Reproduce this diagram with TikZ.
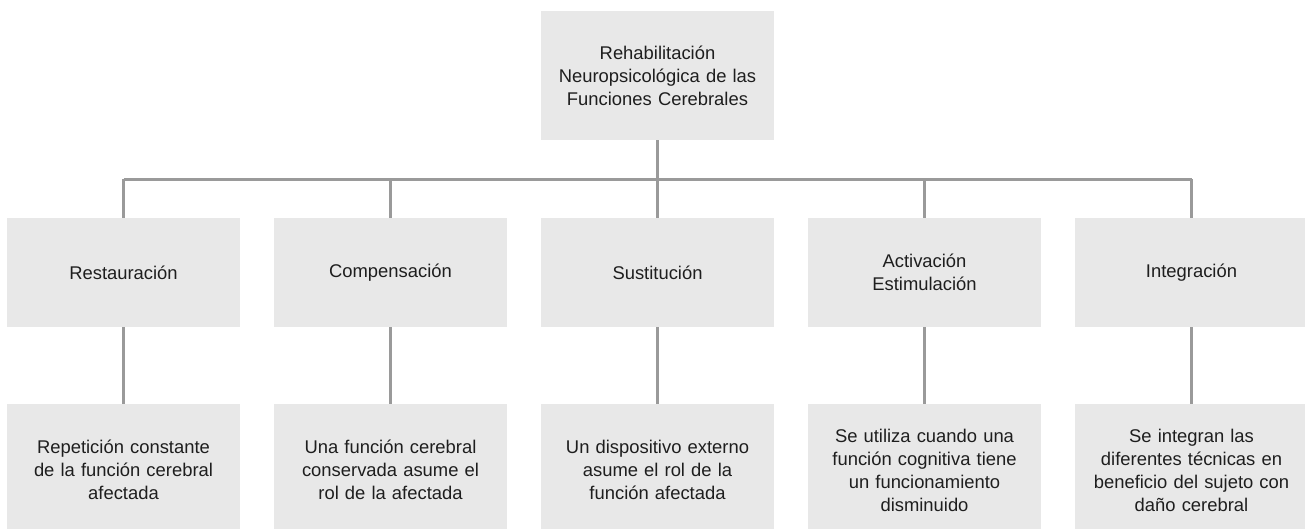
\documentclass[tikz,border=0pt]{standalone}
\usepackage{fontspec}
\setmainfont{Liberation Sans}
\definecolor{boxfill}{HTML}{E8E8E8}
\definecolor{linegray}{HTML}{9A9A9A}
\definecolor{txt}{HTML}{1E1E1E}
\begin{document}
\begin{tikzpicture}[x=1pt,y=1pt,
  box/.style={fill=boxfill,draw=none,minimum width=233pt,inner sep=0pt,
    text width=228pt,align=center,text=txt,
    font=\fontsize{18.4}{23}\selectfont},
  topbox/.style={box,minimum height=129pt},
  midbox/.style={box,minimum height=109pt},
  lowbox/.style={box,minimum height=132pt},
  conn/.style={draw=linegray,line width=2.6pt}]
\useasboundingbox (0,0) rectangle (1305,-529);
\node[topbox] (top) at (657.5,-75.5) {Rehabilitación\\Neuropsicológica de las\\Funciones Cerebrales};
\node[midbox] (c1) at (123.5,-272.5) {Restauración};
\node[midbox] (c2) at (390.5,-272.5) {Compensación};
\node[midbox] (c3) at (657.5,-272.5) {Sustitución};
\node[midbox] (c4) at (924.5,-272.5) {Activación\\Estimulación};
\node[midbox] (c5) at (1191.5,-272.5) {Integración};
\node[lowbox] (d1) at (123.5,-470) {Repetición constante\\de la función cerebral\\afectada};
\node[lowbox] (d2) at (390.5,-470) {Una función cerebral\\conservada asume el\\rol de la afectada};
\node[lowbox] (d3) at (657.5,-470) {Un dispositivo externo\\asume el rol de la\\función afectada};
\node[lowbox] (d4) at (924.5,-470) {Se utiliza cuando una\\función cognitiva tiene\\un funcionamiento\\disminuido};
\node[lowbox] (d5) at (1191.5,-470) {Se integran las\\diferentes técnicas en\\beneficio del sujeto con\\daño cerebral};
\coordinate (jL) at (123.5,-179.5);
\coordinate (jR) at (1191.5,-179.5);
\draw[conn] (jL) -- (jR);
\draw[conn] (top.south) -- (top.south |- jL);
\foreach \i in {1,...,5}{
  \draw[conn] (c\i.north) -- (c\i.north |- jL);
  \draw[conn] (c\i.south) -- (d\i.north);
}
\end{tikzpicture}
\end{document}
